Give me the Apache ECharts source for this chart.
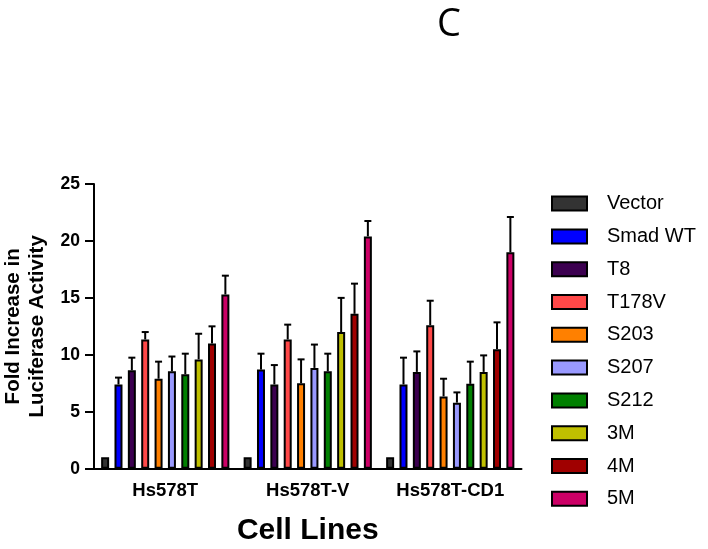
<!DOCTYPE html>
<html>
<head>
<meta charset="utf-8">
<script src="https://cdn.jsdelivr.net/npm/echarts@6/dist/echarts.min.js"></script>
<style>html,body{margin:0;padding:0;background:#fff}#c{width:708px;height:549px}</style>
</head>
<body>
<div id="c"></div>
<script>
var categories = ['Hs578T', 'Hs578T-V', 'Hs578T-CD1'];
var seriesNames = ['Vector', 'Smad WT', 'T8', 'T178V', 'S203', 'S207', 'S212', '3M', '4M', '5M'];
var colors = ['#333333', '#0000ff', '#3c0050', '#ff4848', '#ff8000', '#9999ff', '#008000', '#c0c000', '#a00000', '#cc0066'];
// mean values per series, one per cell line
var vector  = [1.0, 1.0, 1.0];
var smadWT  = [7.4, 8.7, 7.4];
var t8      = [8.65, 7.4, 8.5];
var t178v   = [11.35, 11.35, 12.6];
var s203    = [7.9, 7.5, 6.35];
var s207    = [8.55, 8.85, 5.8];
var s212    = [8.3, 8.55, 7.45];
var m3      = [9.6, 12.0, 8.5];
var m4      = [11.0, 13.6, 10.5];
var m5      = [15.3, 20.4, 19.0];
// upper end of error bars
var vectorUp = [1.0, 1.0, 1.0];
var smadWTUp = [8.0, 10.1, 9.75];
var t8Up     = [9.75, 9.1, 10.3];
var t178vUp  = [12.0, 12.65, 14.75];
var s203Up   = [9.4, 9.6, 7.9];
var s207Up   = [9.85, 10.9, 6.7];
var s212Up   = [10.1, 10.1, 9.4];
var m3Up     = [11.85, 15.0, 9.95];
var m4Up     = [12.5, 16.25, 12.85];
var m5Up     = [16.95, 21.75, 22.1];
var yTicks = [0, 5, 10, 15, 20, 25];

var means = [vector, smadWT, t8, t178v, s203, s207, s212, m3, m4, m5];
var uppers = [vectorUp, smadWTUp, t8Up, t178vUp, s203Up, s207Up, s212Up, m3Up, m4Up, m5Up];

var BAR_W = 8, BAR_GAP_PCT = 67;
var PITCH = BAR_W * (1 + BAR_GAP_PCT / 100);
var N = seriesNames.length;

var series = [];
seriesNames.forEach(function (name, i) {
  series.push({
    name: name,
    type: 'bar',
    data: means[i],
    barWidth: BAR_W,
    barGap: BAR_GAP_PCT + '%',
    itemStyle: { color: colors[i], borderColor: '#000', borderWidth: 2 },
    silent: true,
    z: 2
  });
});
seriesNames.forEach(function (name, i) {
  var data = means[i].map(function (m, c) { return [c, m, uppers[i][c]]; });
  series.push({
    name: name + ' err',
    type: 'custom',
    data: data,
    z: 3,
    silent: true,
    renderItem: function (params, api) {
      var c = api.value(0);
      var p0 = api.coord([c, api.value(1)]);
      var p1 = api.coord([c, api.value(2)]);
      if (api.value(2) <= api.value(1)) return null;
      var x = p0[0] + (i - (N - 1) / 2) * PITCH;
      var st = { stroke: '#000', lineWidth: 2 };
      return {
        type: 'group',
        children: [
          { type: 'line', shape: { x1: x, y1: p0[1], x2: x, y2: p1[1] }, style: st },
          { type: 'line', shape: { x1: x - 3.5, y1: p1[1], x2: x + 3.5, y2: p1[1] }, style: st }
        ]
      };
    }
  });
});

var chart = echarts.init(document.getElementById('c'), null, { renderer: 'canvas' });
chart.setOption({
  animation: false,
  backgroundColor: '#fff',
  title: {
    text: 'C',
    left: 449,
    top: 6,
    padding: 0,
    textAlign: 'center',
    textStyle: { fontFamily: 'Open Sans', fontWeight: 'normal', fontSize: 38, color: '#000' }
  },
  grid: { left: 94, right: 186.5, top: 184, bottom: 80.3, containLabel: false, outerBoundsMode: 'none' },
  legend: {
    orient: 'vertical',
    left: 551,
    top: 193.6,
    padding: 0,
    data: seriesNames,
    itemWidth: 35,
    itemHeight: 14,
    itemGap: 12.8,
    icon: 'rect',
    selectedMode: false,
    textStyle: { fontFamily: 'Liberation Sans', fontSize: 20, color: '#000', padding: [0, 0, 0, 15] }
  },
  xAxis: {
    type: 'category',
    data: categories,
    name: 'Cell Lines',
    nameLocation: 'middle',
    nameGap: 47,
    nameTextStyle: { fontFamily: 'Liberation Sans', fontWeight: 'bold', fontSize: 30, color: '#000' },
    axisLine: { lineStyle: { color: '#000', width: 2 } },
    axisTick: { alignWithLabel: true, length: 8, lineStyle: { color: '#000', width: 2 } },
    axisLabel: { interval: 0, margin: 13, fontFamily: 'Liberation Sans', fontWeight: 'bold', fontSize: 18.5, color: '#000' },
    splitLine: { show: false }
  },
  yAxis: {
    type: 'value',
    min: yTicks[0],
    max: yTicks[yTicks.length - 1],
    interval: yTicks[1] - yTicks[0],
    name: 'Fold Increase in\nLuciferase Activity',
    nameLocation: 'middle',
    nameRotate: 90,
    nameGap: 45,
    nameTextStyle: { fontFamily: 'Liberation Sans', fontWeight: 'bold', fontSize: 20.5, lineHeight: 24, color: '#000' },
    axisLine: { show: true, lineStyle: { color: '#000', width: 2 } },
    axisTick: { show: true, length: 9, lineStyle: { color: '#000', width: 2 } },
    axisLabel: { margin: 14, fontFamily: 'Liberation Sans', fontWeight: 'bold', fontSize: 17.5, color: '#000' },
    splitLine: { show: false }
  },
  series: series
});
</script>
</body>
</html>
